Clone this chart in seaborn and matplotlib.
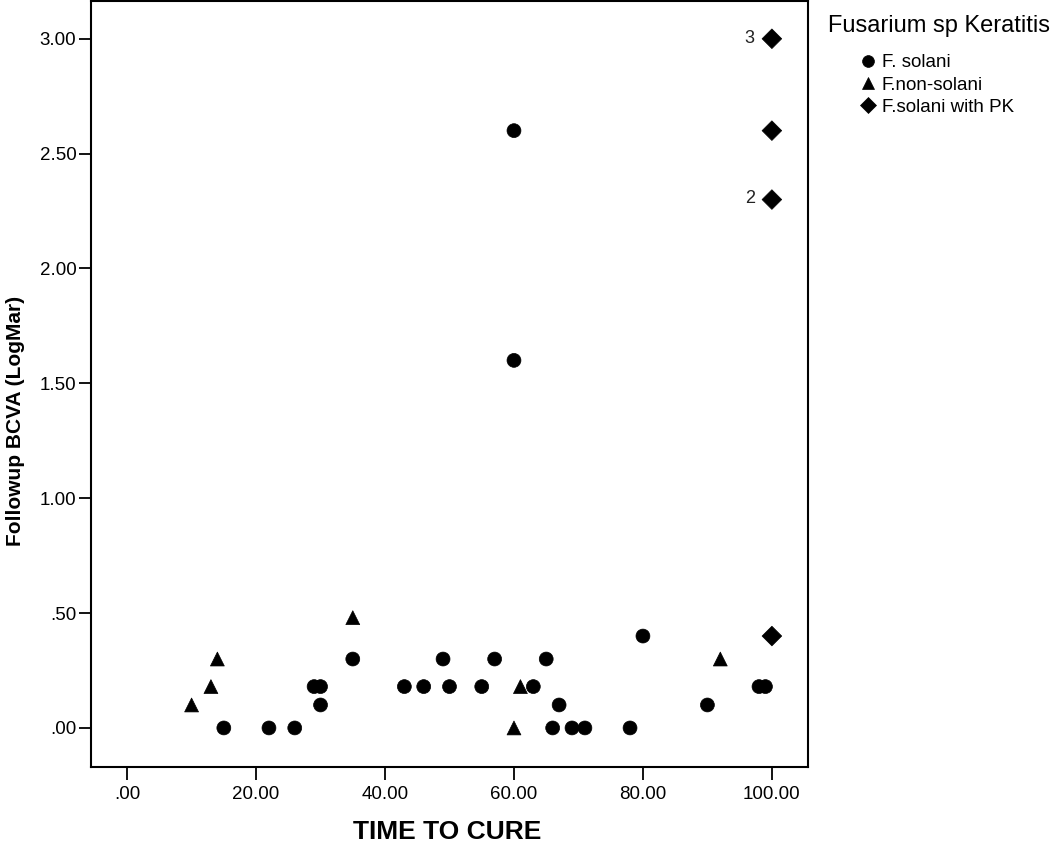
import pandas as pd
import seaborn as sns
import matplotlib.pyplot as plt

# values
solani_time = [15, 22, 26, 29, 30, 30, 35, 43, 46, 49, 50, 55, 57, 60, 60,
               63, 65, 66, 67, 69, 71, 78, 80, 90, 98, 99]
solani_bcva = [0, 0, 0, .18, .18, .10, .30, .18, .18, .30, .18, .18, .30, 2.60, 1.60,
               .18, .30, 0, .10, 0, 0, 0, .40, .10, .18, .18]
nonsolani_time = [10, 13, 14, 35, 60, 61, 92]
nonsolani_bcva = [.10, .18, .30, .48, 0, .18, .30]
pk_time = [100, 100, 100, 100]
pk_bcva = [3.00, 2.60, 2.30, .40]
groups = ["F. solani", "F.non-solani", "F.solani with PK"]
# point counts printed next to stacked points
count_labels = [(100, 3.00, "3"), (100, 2.30, "2")]
x_ticks = [0, 20, 40, 60, 80, 100]
y_ticks = [0, .5, 1, 1.5, 2, 2.5, 3]

df = pd.DataFrame({
    "time": solani_time + nonsolani_time + pk_time,
    "bcva": solani_bcva + nonsolani_bcva + pk_bcva,
    "group": [groups[0]] * len(solani_time) + [groups[1]] * len(nonsolani_time)
             + [groups[2]] * len(pk_time),
})

sns.set_style("ticks")
plt.rcParams['font.family'] = ['Liberation Sans', 'DejaVu Sans']
plt.rcParams['text.color'] = 'black'
plt.rcParams['axes.labelcolor'] = 'black'

fig = plt.figure(figsize=(10.5, 8.44), dpi=100)
ax = fig.add_axes([91 / 1050, 1 - 767 / 844, (808 - 91) / 1050, 767 / 844 - 0.001])

markers = {groups[0]: "o", groups[1]: "^", groups[2]: "D"}
sns.scatterplot(data=df, x="time", y="bcva", style="group", style_order=groups,
                markers=markers, color="black", s=100, edgecolor="black",
                linewidth=0.5, ax=ax)

for x, y, t in count_labels:
    ax.annotate(t, (x, y), xytext=(-16, 0.5), textcoords="offset points",
                ha="center", va="center", fontsize=13, color="#222222")


def fmt(v):
    s = f"{v:.2f}"
    return s[1:] if s.startswith("0") else s


ax.set_xlim(-5.6, 105.6)
ax.set_ylim(-0.17, 3.165)
ax.set_xticks(x_ticks)
ax.set_yticks(y_ticks)
ax.set_xticklabels([fmt(v) for v in x_ticks])
ax.set_yticklabels([fmt(v) for v in y_ticks])
ax.tick_params(direction="out", length=9, width=1.3, colors="black", labelsize=13.5)
ax.tick_params(axis="x", pad=5)
ax.tick_params(axis="y", pad=1.5)
for sp in ax.spines.values():
    sp.set_color("black")
    sp.set_linewidth(1.5)

ax.set_xlabel("TIME TO CURE", fontsize=19, fontweight="bold")
ax.xaxis.set_label_coords(0.4965, -(832 - 767) / 767)
ax.xaxis.label.set_va("center")
ax.set_ylabel("Followup BCVA (LogMar)", fontsize=15, fontweight="bold")
ax.yaxis.set_label_coords((25 - 91) / 717, (767 - 421) / 767)

handles, labels = ax.get_legend_handles_labels()
ax.get_legend().remove()
fig.text(828 / 1050, 1 - 26 / 844, "Fusarium sp Keratitis", fontsize=17,
         ha="left", va="center")
fig.legend(handles, labels, loc="upper left",
           bbox_to_anchor=(859 / 1050, 1 - 54 / 844), frameon=False,
           fontsize=13.5, handlelength=1.0, handletextpad=0.2,
           labelspacing=0.28, markerscale=0.85, borderpad=0, borderaxespad=0)

fig.savefig("out.png", dpi=100)
